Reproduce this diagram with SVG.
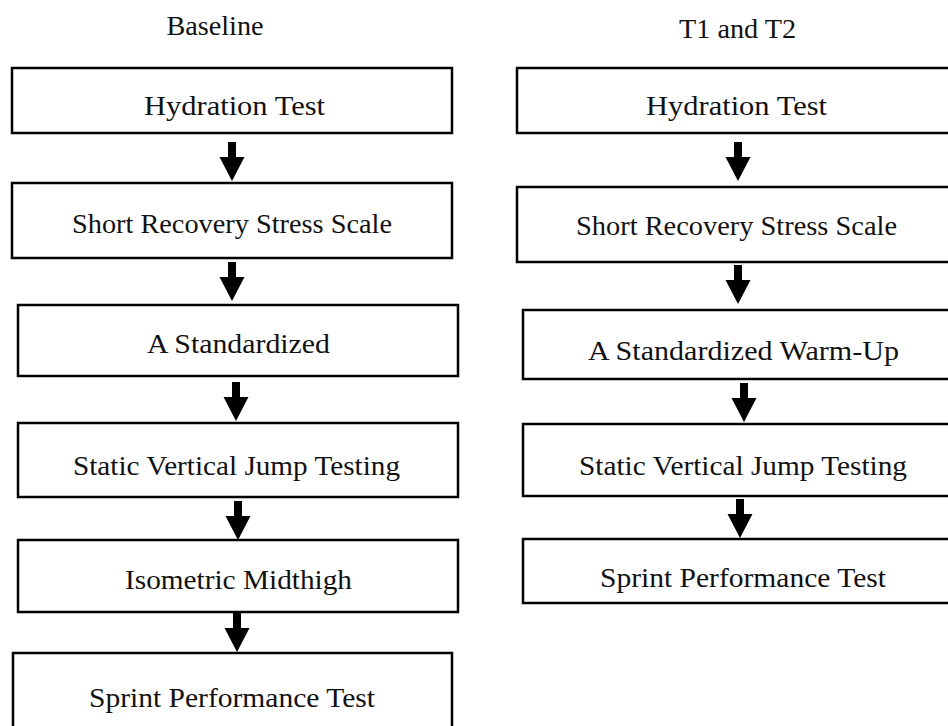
<svg xmlns="http://www.w3.org/2000/svg" xmlns:xlink="http://www.w3.org/1999/xlink" width="948" height="726" viewBox="0 0 948 726">
<style>
.box{fill:#fff;stroke:#000;stroke-width:2.5}
.t{font-family:"Liberation Serif","Times New Roman",serif;font-size:26.5px;fill:#111;text-anchor:middle}
.arr{fill:#000}
</style>
<defs>
<path id="arrow" d="M-4,0 H4 V15 H12.5 L0,39 L-12.5,15 H-4 Z"/>
</defs>
<rect width="948" height="726" fill="#fff"/>
<g id="titles">
<text class="t" x="215" y="35" textLength="97" lengthAdjust="spacingAndGlyphs">Baseline</text>
<text class="t" x="737.5" y="38" textLength="117" lengthAdjust="spacingAndGlyphs">T1 and T2</text>
</g>
<g id="connectors" class="arr">
<use xlink:href="#arrow" x="232" y="142"/>
<use xlink:href="#arrow" x="232" y="262"/>
<use xlink:href="#arrow" x="236" y="382"/>
<use xlink:href="#arrow" x="238" y="501"/>
<use xlink:href="#arrow" x="237" y="613"/>
<use xlink:href="#arrow" x="738" y="142"/>
<use xlink:href="#arrow" x="738" y="265"/>
<use xlink:href="#arrow" x="744" y="383"/>
<use xlink:href="#arrow" x="740" y="499"/>
</g>
<g id="b1"><rect class="box" x="12" y="68" width="440" height="65"/><text class="t" x="234.5" y="115" textLength="181" lengthAdjust="spacingAndGlyphs">Hydration Test</text></g>
<g id="b2"><rect class="box" x="12" y="183" width="440" height="75"/><text class="t" x="232" y="233" textLength="320" lengthAdjust="spacingAndGlyphs">Short Recovery Stress Scale</text></g>
<g id="b3"><rect class="box" x="18" y="305" width="440" height="71"/><text class="t" x="238.5" y="353" textLength="183" lengthAdjust="spacingAndGlyphs">A Standardized</text></g>
<g id="b4"><rect class="box" x="18" y="423" width="440" height="74"/><text class="t" x="236.5" y="475" textLength="327" lengthAdjust="spacingAndGlyphs">Static Vertical Jump Testing</text></g>
<g id="b5"><rect class="box" x="18" y="540" width="440" height="72"/><text class="t" x="238.5" y="589" textLength="227" lengthAdjust="spacingAndGlyphs">Isometric Midthigh</text></g>
<g id="b6"><rect class="box" x="13" y="653" width="439" height="90"/><text class="t" x="232" y="707" textLength="286" lengthAdjust="spacingAndGlyphs">Sprint Performance Test</text></g>
<g id="r1"><rect class="box" x="517" y="68" width="450" height="65"/><text class="t" x="736.5" y="115" textLength="181" lengthAdjust="spacingAndGlyphs">Hydration Test</text></g>
<g id="r2"><rect class="box" x="517" y="187" width="450" height="75"/><text class="t" x="736.5" y="235" textLength="321" lengthAdjust="spacingAndGlyphs">Short Recovery Stress Scale</text></g>
<g id="r3"><rect class="box" x="523" y="310" width="450" height="69"/><text class="t" x="743.5" y="360" textLength="311" lengthAdjust="spacingAndGlyphs">A Standardized Warm-Up</text></g>
<g id="r4"><rect class="box" x="523" y="424" width="450" height="72"/><text class="t" x="743" y="475" textLength="328" lengthAdjust="spacingAndGlyphs">Static Vertical Jump Testing</text></g>
<g id="r5"><rect class="box" x="523" y="539" width="450" height="64"/><text class="t" x="743" y="587" textLength="286" lengthAdjust="spacingAndGlyphs">Sprint Performance Test</text></g>
</svg>
